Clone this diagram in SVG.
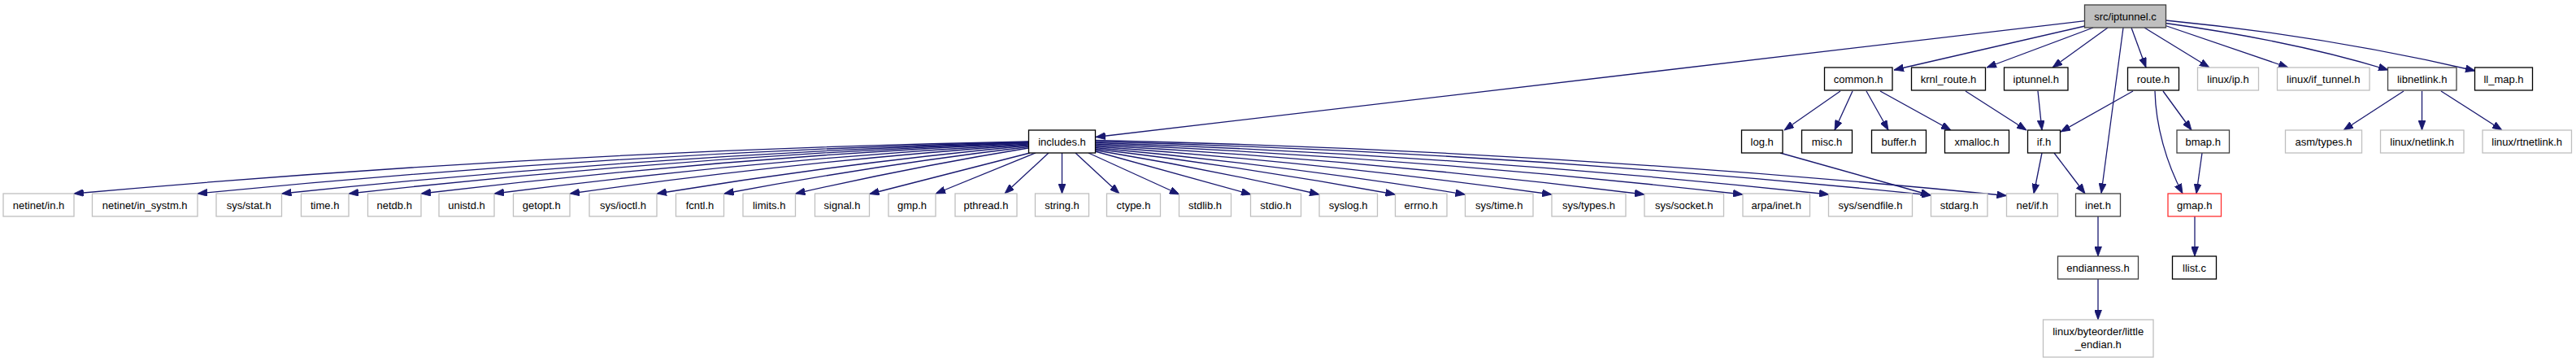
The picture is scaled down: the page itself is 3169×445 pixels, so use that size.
<svg xmlns="http://www.w3.org/2000/svg" width="3169" height="445" viewBox="0 0 3169 445">
<style>
text{font-family:"Liberation Sans",Arial,Helvetica,sans-serif;font-size:13px;text-anchor:middle;fill:#000}
.n rect{fill:#fff;stroke:#000;stroke-width:1.3}
.d rect{stroke:#404040}
.u rect{stroke:#bfbfbf}
.r rect{stroke:#ff3030}
.root rect{fill:#bfbfbf;stroke:#404040}
#edges path{fill:none;stroke:#191970;stroke-width:1.3;marker-end:url(#ah)}
</style>
<defs>
<marker id="ah" viewBox="0 0 12 9" refX="12" refY="4.5" markerWidth="12" markerHeight="9" markerUnits="userSpaceOnUse" orient="auto">
<path d="M0,0 L12,4.5 L0,9 z" fill="#191970" stroke="#191970" stroke-width="0.8"/>
</marker>
</defs>
<rect width="3169" height="445" fill="#fff"/>
<g id="edges">
<path d="M2565,25.7 L1348,168.5"/>
<path d="M2565,32 L2330,86"/>
<path d="M2575,34 L2444,83"/>
<path d="M2593,34 L2525,83"/>
<path d="M2612,34 L2585,237.5"/>
<path d="M2622,34 L2640,83"/>
<path d="M2638,34 L2718,83"/>
<path d="M2664,31.5 L2815,83"/>
<path d="M2664,28.5 Q2820,50 2938,86"/>
<path d="M2664,25 Q2860,44 3045,87"/>
<path d="M2264,112 L2195,160"/>
<path d="M2279,112 L2257,160"/>
<path d="M2296,112 L2323,160"/>
<path d="M2313,112 L2400,160"/>
<path d="M2418,112 L2493,160"/>
<path d="M2507,112 L2512,160"/>
<path d="M2624,112 L2535,162"/>
<path d="M2661,112 L2696,160"/>
<path d="M2651,112 C2652,155 2665,200 2685,238"/>
<path d="M2709,188 L2702,238"/>
<path d="M2512,188 L2502,238"/>
<path d="M2527,188 L2565,238"/>
<path d="M2190,188 L2375,240"/>
<path d="M2957,112 L2883,160"/>
<path d="M2979.5,112 L2979.5,160"/>
<path d="M3003,112 L3078,160"/>
<path d="M2581,266 L2581,315"/>
<path d="M2581,343 L2581,393"/>
<path d="M2700,266 L2700,315"/>
<path d="M1265,174 Q677.9,185.5 90.8,238"/>
<path d="M1265,174.5 Q754,187.4 243,238"/>
<path d="M1265,175 Q805.8,189.7 346.5,238"/>
<path d="M1265,175.5 Q847,191.6 429,238"/>
<path d="M1265,176 Q891.5,193.5 518,238"/>
<path d="M1265,177 Q936.5,195.8 608,238"/>
<path d="M1265,178 Q983,198.2 701,238"/>
<path d="M1265,179 Q1036.5,200.7 808,238"/>
<path d="M1265,180.5 Q1077.9,203 890.7,238"/>
<path d="M1265,182 Q1121.8,205.4 978.5,238"/>
<path d="M1267,188 L1069.5,238.5"/>
<path d="M1274,188 L1151,238"/>
<path d="M1290,188 L1236,238"/>
<path d="M1306.5,188 L1306.5,238"/>
<path d="M1323,188 L1377,238"/>
<path d="M1339,188 L1451,239"/>
<path d="M1347,186 L1539,239"/>
<path d="M1347,184.5 Q1485,207.4 1623,239"/>
<path d="M1347,183 Q1531.8,205 1716.5,239"/>
<path d="M1347,181.5 Q1574.8,202.6 1802.5,239"/>
<path d="M1347,180 Q1628,199.9 1909,239"/>
<path d="M1347,178.5 Q1685,196.8 2023,239"/>
<path d="M1347,177 Q1745.5,193.6 2144,239"/>
<path d="M1347,175.5 Q1798.5,190.5 2250,239"/>
<path d="M1347,174 Q1861.5,187.2 2376,240"/>
<path d="M1347,172.5 Q1907.8,184.7 2468.5,240.5"/>
</g>
<g id="n_src_iptunnel_c" class="n root"><rect x="2564.5" y="6" width="100" height="28"/><text x="2614.5" y="24.5">src/iptunnel.c</text></g>
<g id="n_common_h" class="n"><rect x="2244.5" y="83" width="83.5" height="28"/><text x="2286.2" y="101.5">common.h</text></g>
<g id="n_krnl_route_h" class="n"><rect x="2351.5" y="83" width="91" height="28"/><text x="2397" y="101.5">krnl_route.h</text></g>
<g id="n_iptunnel_h" class="n"><rect x="2465.5" y="83" width="78.5" height="28"/><text x="2504.7" y="101.5">iptunnel.h</text></g>
<g id="n_route_h" class="n"><rect x="2617.5" y="83" width="63" height="28"/><text x="2649" y="101.5">route.h</text></g>
<g id="n_linux_ip_h" class="n u"><rect x="2703.5" y="83" width="75" height="28"/><text x="2741" y="101.5">linux/ip.h</text></g>
<g id="n_linux_if_tunnel_h" class="n u"><rect x="2801.5" y="83" width="113.5" height="28"/><text x="2858.2" y="101.5">linux/if_tunnel.h</text></g>
<g id="n_libnetlink_h" class="n d"><rect x="2937.5" y="83" width="84.5" height="28"/><text x="2979.7" y="101.5">libnetlink.h</text></g>
<g id="n_ll_map_h" class="n"><rect x="3044.5" y="83" width="71" height="28"/><text x="3080" y="101.5">ll_map.h</text></g>
<g id="n_includes_h" class="n"><rect x="1265.5" y="160" width="82" height="28"/><text x="1306.5" y="178.5">includes.h</text></g>
<g id="n_log_h" class="n"><rect x="2142.5" y="160" width="50.5" height="28"/><text x="2167.7" y="178.5">log.h</text></g>
<g id="n_misc_h" class="n"><rect x="2216.5" y="160" width="62" height="28"/><text x="2247.5" y="178.5">misc.h</text></g>
<g id="n_buffer_h" class="n"><rect x="2302.5" y="160" width="67" height="28"/><text x="2336" y="178.5">buffer.h</text></g>
<g id="n_xmalloc_h" class="n"><rect x="2392.5" y="160" width="79" height="28"/><text x="2432" y="178.5">xmalloc.h</text></g>
<g id="n_if_h" class="n"><rect x="2494.5" y="160" width="40" height="28"/><text x="2514.5" y="178.5">if.h</text></g>
<g id="n_bmap_h" class="n d"><rect x="2678" y="160" width="64.5" height="28"/><text x="2710.2" y="178.5">bmap.h</text></g>
<g id="n_asm_types_h" class="n u"><rect x="2811.5" y="160" width="94" height="28"/><text x="2858.5" y="178.5">asm/types.h</text></g>
<g id="n_linux_netlink_h" class="n u"><rect x="2928.5" y="160" width="102.5" height="28"/><text x="2979.7" y="178.5">linux/netlink.h</text></g>
<g id="n_linux_rtnetlink_h" class="n u"><rect x="3054" y="160" width="109.5" height="28"/><text x="3108.7" y="178.5">linux/rtnetlink.h</text></g>
<g id="n_netinet_in_h" class="n u"><rect x="4" y="238" width="87" height="28"/><text x="47.5" y="256.5">netinet/in.h</text></g>
<g id="n_netinet_in_systm_h" class="n u"><rect x="113.5" y="238" width="129.5" height="28"/><text x="178.2" y="256.5">netinet/in_systm.h</text></g>
<g id="n_sys_stat_h" class="n u"><rect x="266" y="238" width="80.5" height="28"/><text x="306.2" y="256.5">sys/stat.h</text></g>
<g id="n_time_h" class="n u"><rect x="370.5" y="238" width="58.5" height="28"/><text x="399.7" y="256.5">time.h</text></g>
<g id="n_netdb_h" class="n u"><rect x="452.5" y="238" width="65.5" height="28"/><text x="485.2" y="256.5">netdb.h</text></g>
<g id="n_unistd_h" class="n u"><rect x="540" y="238" width="68" height="28"/><text x="574" y="256.5">unistd.h</text></g>
<g id="n_getopt_h" class="n u"><rect x="631.5" y="238" width="69.5" height="28"/><text x="666.2" y="256.5">getopt.h</text></g>
<g id="n_sys_ioctl_h" class="n u"><rect x="725" y="238" width="83" height="28"/><text x="766.5" y="256.5">sys/ioctl.h</text></g>
<g id="n_fcntl_h" class="n u"><rect x="831.5" y="238" width="59" height="28"/><text x="861" y="256.5">fcntl.h</text></g>
<g id="n_limits_h" class="n u"><rect x="914" y="238" width="64.5" height="28"/><text x="946.2" y="256.5">limits.h</text></g>
<g id="n_signal_h" class="n u"><rect x="1002.5" y="238" width="67" height="28"/><text x="1036" y="256.5">signal.h</text></g>
<g id="n_gmp_h" class="n u"><rect x="1093" y="238" width="58" height="28"/><text x="1122" y="256.5">gmp.h</text></g>
<g id="n_pthread_h" class="n u"><rect x="1175" y="238" width="76" height="28"/><text x="1213" y="256.5">pthread.h</text></g>
<g id="n_string_h" class="n u"><rect x="1273.5" y="238" width="66" height="28"/><text x="1306.5" y="256.5">string.h</text></g>
<g id="n_ctype_h" class="n u"><rect x="1361.5" y="238" width="66" height="28"/><text x="1394.5" y="256.5">ctype.h</text></g>
<g id="n_stdlib_h" class="n u"><rect x="1450.5" y="238" width="64" height="28"/><text x="1482.5" y="256.5">stdlib.h</text></g>
<g id="n_stdio_h" class="n u"><rect x="1538.5" y="238" width="62" height="28"/><text x="1569.5" y="256.5">stdio.h</text></g>
<g id="n_syslog_h" class="n u"><rect x="1623" y="238" width="71.5" height="28"/><text x="1658.7" y="256.5">syslog.h</text></g>
<g id="n_errno_h" class="n u"><rect x="1716.5" y="238" width="63.5" height="28"/><text x="1748.2" y="256.5">errno.h</text></g>
<g id="n_sys_time_h" class="n u"><rect x="1802.5" y="238" width="83.5" height="28"/><text x="1844.2" y="256.5">sys/time.h</text></g>
<g id="n_sys_types_h" class="n u"><rect x="1909" y="238" width="91" height="28"/><text x="1954.5" y="256.5">sys/types.h</text></g>
<g id="n_sys_socket_h" class="n u"><rect x="2023" y="238" width="97.5" height="28"/><text x="2071.7" y="256.5">sys/socket.h</text></g>
<g id="n_arpa_inet_h" class="n u"><rect x="2144" y="238" width="82.5" height="28"/><text x="2185.2" y="256.5">arpa/inet.h</text></g>
<g id="n_sys_sendfile_h" class="n u"><rect x="2249.5" y="238" width="103" height="28"/><text x="2301" y="256.5">sys/sendfile.h</text></g>
<g id="n_stdarg_h" class="n u"><rect x="2375.5" y="238" width="69.5" height="28"/><text x="2410.2" y="256.5">stdarg.h</text></g>
<g id="n_net_if_h" class="n u"><rect x="2468.5" y="238" width="63" height="28"/><text x="2500" y="256.5">net/if.h</text></g>
<g id="n_inet_h" class="n d"><rect x="2553.5" y="238" width="55" height="28"/><text x="2581" y="256.5">inet.h</text></g>
<g id="n_gmap_h" class="n r"><rect x="2667" y="238" width="65.5" height="28"/><text x="2699.7" y="256.5">gmap.h</text></g>
<g id="n_endianness_h" class="n d"><rect x="2531.5" y="315" width="99" height="28"/><text x="2581" y="333.5">endianness.h</text></g>
<g id="n_llist_c" class="n"><rect x="2672.5" y="315" width="54" height="28"/><text x="2699.5" y="333.5">llist.c</text></g>
<g id="n_linux_byteorder_little_endian_h" class="n u"><rect x="2513.5" y="393" width="135.5" height="46"/><text x="2581.2" y="411.5">linux/byteorder/little</text><text x="2581.2" y="428">_endian.h</text></g>
</svg>
